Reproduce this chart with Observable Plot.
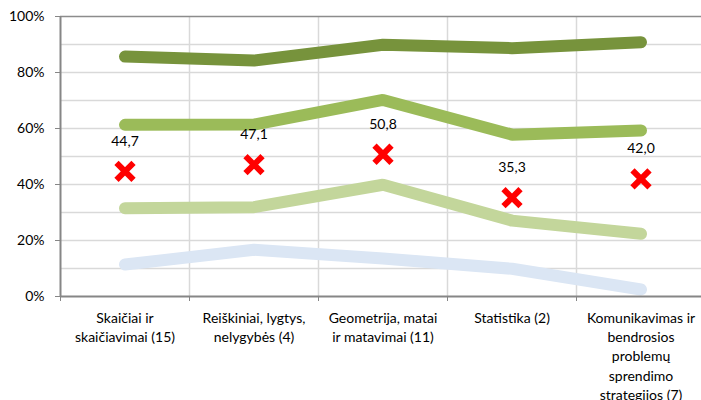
<!DOCTYPE html>
<html>
<head>
<meta charset="utf-8">
<script src="https://cdn.jsdelivr.net/npm/d3@7"></script>
<script src="https://cdn.jsdelivr.net/npm/@observablehq/plot@0.6"></script>
<style>
  html, body { margin: 0; padding: 0; background: #fff; }
  svg { display: block; }
</style>
</head>
<body>
<div id="chart"></div>
<script>
const categories = [
  "Skaičiai ir\nskaičiavimai (15)",
  "Reiškiniai, lygtys,\nnelygybės (4)",
  "Geometrija, matai\nir matavimai (11)",
  "Statistika (2)",
  "Komunikavimas ir\nbendrosios\nproblemų\nsprendimo\nstrategijos (7)"
];
const series1 = [85.7, 84.3, 89.9, 88.7, 90.8];
const series2 = [61.3, 61.4, 70.2, 57.8, 59.3];
const series3 = [31.5, 31.9, 39.9, 27.1, 22.4];
const series4 = [11.4, 16.7, 13.6, 9.9, 2.5];
const markers = [44.7, 47.1, 50.8, 35.3, 42.0];
const markerLabels = ["44,7", "47,1", "50,8", "35,3", "42,0"];
const yTicks = [0, 20, 40, 60, 80, 100];

const idx = categories.map((_, i) => i);
const toRows = (vals) => vals.map((v, i) => ({i, v}));
const boundaries = d3.range(-0.5, categories.length, 1);

const font = "Lato, 'Open Sans', sans-serif";
const lineStyle = {x: "i", y: "v", strokeWidth: 12, strokeLinecap: "round", strokeLinejoin: "miter"};

const chart = Plot.plot({
  width: 701,
  height: 400,
  marginTop: 16,
  marginBottom: 104,
  marginLeft: 60,
  marginRight: 0,
  style: {fontFamily: font, fontSize: "14px", color: "#000", background: "#fff"},
  x: {type: "linear", domain: [-0.5, 4.5], range: [60, 705], axis: null},
  y: {domain: [0, 100], range: [296, 16], axis: null},
  marks: [
    Plot.gridY(d3.range(10, 100, 10), {stroke: "#D9D9D9", strokeOpacity: 1, strokeWidth: 1.5}),
    Plot.ruleX(boundaries.slice(1), {y1: 0, y2: 100, stroke: "#D9D9D9", strokeWidth: 1.5}),
    Plot.ruleY([100], {stroke: "#8C8C8C", strokeWidth: 1.5}),
    Plot.axisY(yTicks, {label: null, tickSize: 5, stroke: "#868686", tickPadding: 11, tickFormat: d => d + "%", fill: "#000", fontSize: "14px"}),
    Plot.axisX(boundaries, {label: null, tickSize: 5, stroke: "#868686", tickFormat: () => ""}),
    Plot.line(toRows(series4), {...lineStyle, stroke: "#DBE6F4"}),
    Plot.line(toRows(series3), {...lineStyle, stroke: "#C3D69B"}),
    Plot.line(toRows(series2), {...lineStyle, stroke: "#9BBB59"}),
    Plot.line(toRows(series1), {...lineStyle, stroke: "#77933C"}),
    Plot.ruleX([-0.5], {y1: 0, y2: 100, stroke: "#868686", strokeWidth: 2}),
    Plot.ruleY([0], {stroke: "#868686", strokeWidth: 2}),
    Plot.dot(toRows(markers), {x: "i", y: "v", symbol: "times", r: 7.8, stroke: "#FF0000", strokeWidth: 6, strokeLinecap: "butt"}),
    Plot.text(toRows(markers), {x: "i", y: "v", text: (d) => markerLabels[d.i], dy: -30, fill: "#000", fontSize: 14}),
    Plot.text(idx, {x: d => d, y: 0, text: d => categories[d], lineAnchor: "top", dy: 13, lineHeight: 1.37, fill: "#000", fontSize: 14})
  ]
});
document.getElementById("chart").appendChild(chart);
</script>
</body>
</html>
